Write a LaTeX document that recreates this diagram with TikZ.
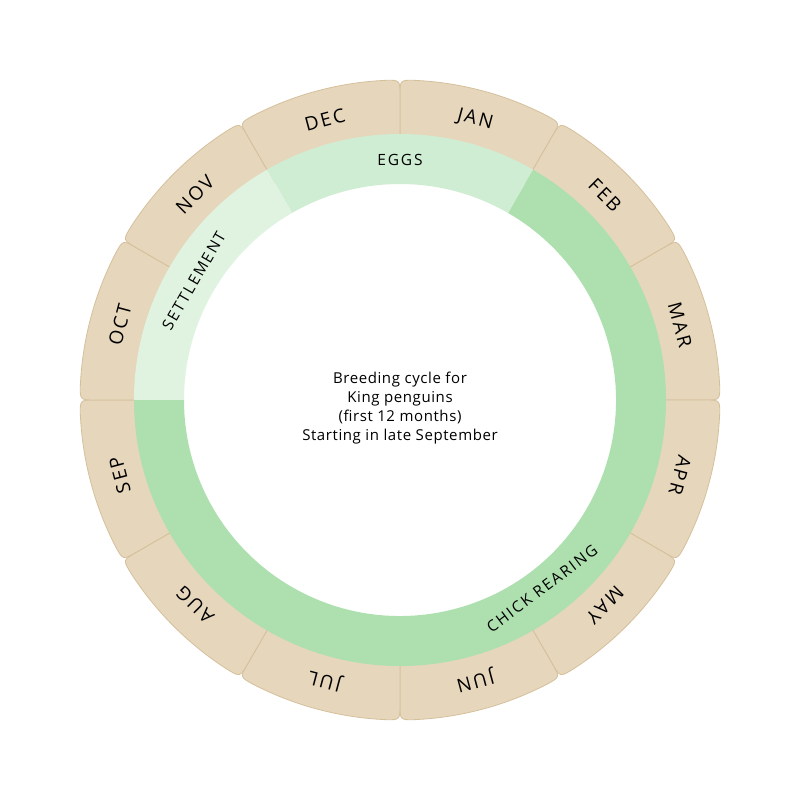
\documentclass[tikz,border=0pt]{standalone}
\usepackage{fontspec}
\setmainfont{Open Sans}
\newfontfamily\spacedfont[LetterSpace=12]{Open Sans}
\newfontfamily\widefont[LetterSpace=4]{Open Sans}
\definecolor{tan}{HTML}{E6D6BB}
\definecolor{tanline}{HTML}{D6C09C}
\definecolor{chick}{HTML}{AEE0AF}
\definecolor{eggs}{HTML}{CFEDD3}
\definecolor{settle}{HTML}{E0F3E1}
\tikzset{
  monthseg/.style={fill=tan, draw=tanline, line width=0.8pt},
  monthlbl/.style={font=\spacedfont\fontsize{19}{22}\selectfont, text=black, inner sep=0pt},
  ringlbl/.style={font=\spacedfont\fontsize{15.5}{18}\selectfont, text=black, inner sep=0pt},
  centerlbl/.style={font=\widefont\fontsize{15}{19}\selectfont, align=center, text=black, inner sep=0pt}
}
\begin{document}
\begin{tikzpicture}[x=1pt,y=1pt]
\useasboundingbox[fill=white] (-400,-400) rectangle (400,400);
% month segments
\foreach \a/\m in {60/JAN,30/FEB,0/MAR,-30/APR,-60/MAY,-90/JUN,-120/JUL,-150/AUG,-180/SEP,150/OCT,120/NOV,90/DEC}{
  \path[monthseg] (\a:250) -- (\a:305) .. controls (\a:320) .. (\a+2.7:320)
    arc[start angle=\a+2.7, end angle=\a+27.3, radius=320]
    .. controls (\a+30:320) .. (\a+30:305) -- (\a+30:250) -- cycle;
  \node[monthlbl, rotate=\a+15-90] (m\m) at (\a+15:290) {\m};
}
% phase ring
\fill[chick] (-180:266) arc[start angle=-180, end angle=60, radius=266] -- (60:216)
  arc[start angle=60, end angle=-180, radius=216] -- cycle;
\fill[eggs] (60:266) arc[start angle=60, end angle=120, radius=266] -- (120:216)
  arc[start angle=120, end angle=60, radius=216] -- cycle;
\fill[settle] (120:266) arc[start angle=120, end angle=180, radius=266] -- (180:216)
  arc[start angle=180, end angle=120, radius=216] -- cycle;
\node[ringlbl] (eggslbl) at (90:240) {EGGS};
\node[ringlbl, rotate=60] (settlelbl) at (150:238) {SETTLEMENT};
\node[ringlbl, rotate=37] (chicklbl) at (-53:236) {CHICK REARING};
\node[centerlbl] (center) at (0,-8) {Breeding cycle for\\King penguins\\(first 12 months)\\Starting in late September};
\end{tikzpicture}
\end{document}
